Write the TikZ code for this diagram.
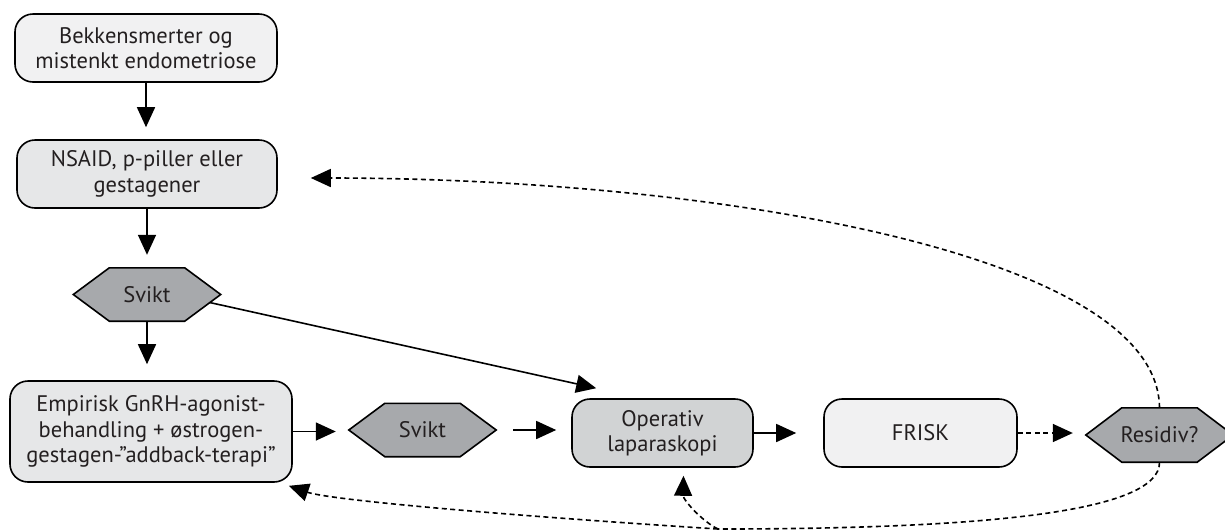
\documentclass[tikz,border=0pt]{standalone}
\usepackage{fontspec}
\setmainfont{PT Sans}
\usetikzlibrary{arrows.meta,backgrounds,calc}
\definecolor{fillA}{HTML}{F1F1F2}
\definecolor{fillB}{HTML}{E6E7E8}
\definecolor{fillC}{HTML}{D1D3D4}
\definecolor{fillH}{HTML}{A7A9AC}
\definecolor{txt}{HTML}{231F20}
\newcommand\hexof[1]{\draw[hexd] (#1.west) -- ([xshift=36pt]#1.north west) -- ([xshift=-36pt]#1.north east) -- (#1.east) -- ([xshift=-36pt]#1.south east) -- ([xshift=36pt]#1.south west) -- cycle;}
\begin{document}
\begin{tikzpicture}[x=1pt,y=-1pt,
  box/.style={draw=black, line width=1.6pt, rounded corners=18pt, align=center, text=txt, font=\fontsize{22.5}{25.5}\selectfont, inner sep=0pt},
  hexn/.style={inner sep=0pt, minimum width=147pt, minimum height=53pt, text=txt, font=\fontsize{22.5}{25.5}\selectfont},
  hexd/.style={draw=black, line width=1.6pt, fill=fillH, line join=miter},
  arr/.style={line width=1.6pt, -{Triangle[length=20pt,width=18pt]}},
  dsh/.style={arr, dash pattern=on 5pt off 3.5pt},
  dshline/.style={line width=1.6pt, dash pattern=on 5pt off 3.5pt}]
\useasboundingbox (0,0) rectangle (1225,531);

\node[box, fill=fillA, minimum width=262pt, minimum height=68pt] (b1) at (146,48) {Bekkensmerter og\\mistenkt endometriose};
\node[box, fill=fillB, minimum width=260pt, minimum height=68pt] (b2) at (147,174) {NSAID, p-piller eller\\gestagener};
\node[hexn] (s1) at (147,294.5) {Svikt};
\node[box, fill=fillB, minimum width=282pt, minimum height=101pt] (b3) at (151,431.5) {Empirisk GnRH-agonist-\\behandling + østrogen-\\gestagen-”addback-terapi”};
\node[hexn] (s2) at (422.5,430) {Svikt};
\node[box, fill=fillC, minimum width=181pt, minimum height=68pt] (op) at (662.5,433) {Operativ\\laparaskopi};
\node[box, fill=fillA, minimum width=193pt, minimum height=68pt] (fr) at (920.5,433) {FRISK};
\node[hexn, minimum height=54pt] (res) at (1159.5,435) {Residiv?};
\coordinate (j) at (718,529);

\begin{pgfonlayer}{background}
\hexof{s1}
\hexof{s2}
\hexof{res}
\end{pgfonlayer}

\draw[arr, shorten >=12pt] (b1.south) -- (b1.south |- b2.north);
\draw[arr, shorten >=13pt] (b2.south) -- (b2.south |- s1.north);
\draw[arr, shorten >=16pt] (s1.south) -- (s1.south |- b3.north);
\draw[arr, shorten >=13pt] (b3.east) -- (b3.east -| s2.west);
\draw[arr, shorten <=17pt, shorten >=15pt] (s2.east) -- (s2.east -| op.west);
\draw[arr, shorten >=27pt] (op.east) -- (op.east -| fr.west);
\draw[dsh, shorten >=13pt] (fr.east) -- (fr.east -| res.west);
\draw[arr] ([shift={(-11pt,-8pt)}]s1.east) -- ([shift={(25pt,10pt)}]op.north west);

\draw[dsh] (res.north) .. controls (1158,250) and (700,178) .. ([shift={(33pt,-4pt)}]b2.east);
\draw[dshline] (res.south) .. controls (1160,510) and (1000,529) .. (j);
\draw[dsh] (j) .. controls (500,515) and (330,500) .. ([shift={(-4pt,-3pt)}]b3.south east);
\draw[dsh] (j) .. controls (703,522) and (683,500) .. ([shift={(21pt,-8pt)}]op.south);
\end{tikzpicture}
\end{document}
